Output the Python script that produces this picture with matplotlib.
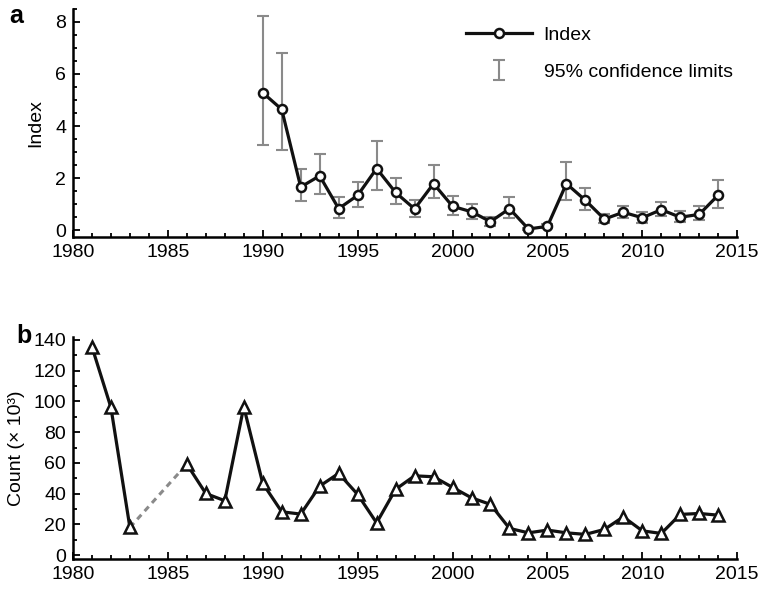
import numpy as np
import matplotlib
matplotlib.use('Agg')
import matplotlib.pyplot as plt
from matplotlib.ticker import MultipleLocator


# panel a: index with 95% confidence limits
years_a = list(range(1990, 2015))
index_val = [5.28, 4.64, 1.66, 2.09, 0.83, 1.34, 2.37, 1.45, 0.82, 1.79,
             0.92, 0.71, 0.33, 0.83, 0.05, 0.15, 1.79, 1.15, 0.43, 0.69,
             0.48, 0.79, 0.50, 0.61, 1.35]
ci_low = [3.27, 3.09, 1.12, 1.41, 0.46, 0.89, 1.55, 1.02, 0.52, 1.22,
          0.57, 0.45, 0.18, 0.46, 0.01, 0.08, 1.16, 0.76, 0.29, 0.48,
          0.29, 0.55, 0.33, 0.41, 0.87]
ci_high = [8.23, 6.79, 2.34, 2.93, 1.27, 1.86, 3.44, 2.01, 1.16, 2.50,
           1.31, 1.02, 0.51, 1.27, 0.10, 0.24, 2.62, 1.63, 0.63, 0.95,
           0.69, 1.08, 0.73, 0.93, 1.94]

# panel b: counts (x10^3), 1984 and 1985 missing
years_b = list(range(1981, 2015))
count_val = [135.6, 96.1, 18.0, None, None, 59.2, 40.1, 35.4, 96.5, 46.7,
             28.2, 26.7, 44.9, 53.2, 39.5, 21.0, 42.8, 51.6, 51.0, 44.1,
             37.3, 33.0, 17.4, 14.5, 16.3, 14.5, 13.5, 16.7, 24.9, 15.8,
             14.1, 26.5, 27.1, 26.0]

plt.rcParams['font.family'] = ['Liberation Sans', 'DejaVu Sans']
plt.rcParams['font.size'] = 14

GREY = '#8a8a8a'


def style_axis(ax, ymaj, ymin):
    for s in ['top', 'right']:
        ax.spines[s].set_visible(False)
    for s in ['left', 'bottom']:
        ax.spines[s].set_linewidth(1.8)
    ax.xaxis.set_major_locator(MultipleLocator(5))
    ax.xaxis.set_minor_locator(MultipleLocator(1))
    ax.yaxis.set_major_locator(MultipleLocator(ymaj))
    ax.yaxis.set_minor_locator(MultipleLocator(ymin))
    ax.tick_params(which='both', direction='in', top=False, right=False, width=1.3)
    ax.tick_params(which='major', length=5, pad=5)
    ax.tick_params(which='minor', length=3)
    ax.set_xlim(1980, 2015)


fig = plt.figure(figsize=(7.6, 5.89), dpi=100)
ax1 = fig.add_axes([0.096, 0.598, 0.874, 0.387])
ax2 = fig.add_axes([0.096, 0.051, 0.874, 0.377])

# panel a
ya = np.array(index_val)
yerr = [ya - np.array(ci_low), np.array(ci_high) - ya]
eb = ax1.errorbar(years_a, index_val, yerr=yerr, fmt='none', ecolor=GREY,
                  elinewidth=1.5, capsize=4, capthick=1.5, zorder=2)
ln, = ax1.plot(years_a, index_val, color='#111111', lw=2.3, marker='o', ms=6.5,
               mfc='white', mec='#111111', mew=1.8, zorder=3)
style_axis(ax1, 2, 0.5)
ax1.set_ylim(-0.25, 8.5)
ax1.set_ylabel('Index', labelpad=8)
ax1.legend([ln, eb], ['Index', '95% confidence limits'], loc='upper left',
           bbox_to_anchor=(0.565, 1.0), frameon=False, handlelength=3.4,
           labelspacing=1.0, handletextpad=0.6)
fig.text(0.012, 0.972, 'a', fontsize=18, fontweight='bold', ha='left', va='center')

# panel b
yb = np.array([np.nan if v is None else v for v in count_val], dtype=float)
i0 = years_b.index(1983)
i1 = years_b.index(1986)
ax2.plot([years_b[i0], years_b[i1]], [yb[i0], yb[i1]], color=GREY, lw=2.2,
         ls=(0, (2, 1.6)), zorder=2)
ax2.plot(years_b, yb, color='#111111', lw=2.3, marker='^', ms=8,
         mfc='white', mec='#111111', mew=1.8, zorder=3)
style_axis(ax2, 20, 10)
ax2.set_ylim(-2.5, 142)
ax2.set_ylabel('Count (× 10³)', labelpad=6)
fig.text(0.022, 0.43, 'b', fontsize=18, fontweight='bold', ha='left', va='center')

fig.savefig('out.png', dpi=100)
